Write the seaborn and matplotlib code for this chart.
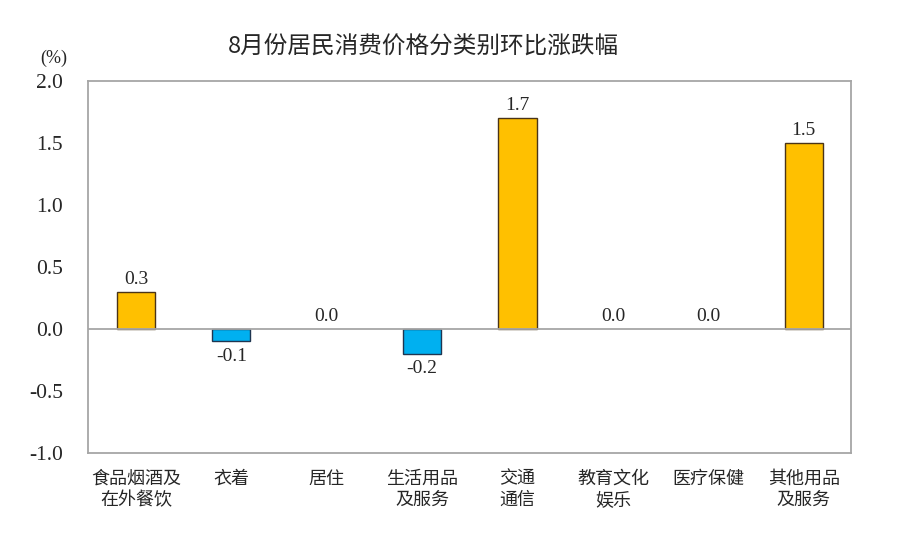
import pandas as pd
import numpy as np
import matplotlib
matplotlib.use("Agg")
import matplotlib.pyplot as plt
import seaborn as sns

# data
categories = ["食品烟酒及\n在外餐饮", "衣着", "居住", "生活用品\n及服务",
              "交通\n通信", "教育文化\n娱乐", "医疗保健", "其他用品\n及服务"]
values = [0.3, -0.1, 0.0, -0.2, 1.7, 0.0, 0.0, 1.5]
y_ticks = [-1.0, -0.5, 0.0, 0.5, 1.0, 1.5, 2.0]

sns.set_style("white")
plt.rcParams['font.family'] = ['Liberation Serif', 'Noto Sans CJK SC']

df = pd.DataFrame({"cat": categories, "val": values})
df["sign"] = np.where(df["val"] < 0, "neg", "pos")

fig = plt.figure(figsize=(9, 5.51), dpi=100)
ax = fig.add_axes([0.098, 0.178, 0.848, 0.675])

sns.barplot(data=df, x="cat", y="val", hue="sign",
            palette={"pos": "#FFC000", "neg": "#00B0F0"}, saturation=1,
            dodge=False, width=0.4, legend=False, ax=ax)

for p in ax.patches:
    h = p.get_height()
    if h < 0:
        p.set_edgecolor("#1F3550")
    else:
        p.set_edgecolor("#4A3418")
    p.set_linewidth(1.0 if h != 0 else 0)

# value labels
for i, v in enumerate(values):
    if v < 0:
        ax.text(i, v - 0.05, f"{v:.1f}", ha="center", va="top", fontsize=14,
                family="Liberation Serif")
    else:
        ax.text(i, v + 0.03, f"{v:.1f}", ha="center", va="bottom", fontsize=14,
                family="Liberation Serif")

ax.axhline(0, color="#A6A6A6", lw=1.3, zorder=3)
ax.set_ylim(-1.0, 2.0)
ax.set_xlim(-0.5, len(categories) - 0.5)
ax.set_yticks(y_ticks)
ax.set_yticklabels([f"{t:.1f}" for t in y_ticks], fontsize=15.5, family="Liberation Serif")
ax.set_xticks(range(len(categories)))
ax.set_xticklabels(categories, fontsize=13, family="Noto Sans CJK SC", linespacing=1.25)
ax.set_xlabel("")
ax.set_ylabel("")

for s in ax.spines.values():
    s.set_visible(True)
    s.set_color("#A6A6A6")
    s.set_linewidth(1.3)

ax.tick_params(axis="y", direction="in", length=5, color="#A6A6A6", pad=18)
ax.tick_params(axis="x", length=0, pad=12)

fig.text(0.471, 0.916, "8月份居民消费价格分类别环比涨跌幅", ha="center", va="center",
         fontsize=17, family="Noto Sans CJK SC")
fig.text(0.06, 0.895, "(%)", ha="center", va="center", fontsize=13,
         family="Liberation Serif")

fig.savefig("out.png", dpi=100)
